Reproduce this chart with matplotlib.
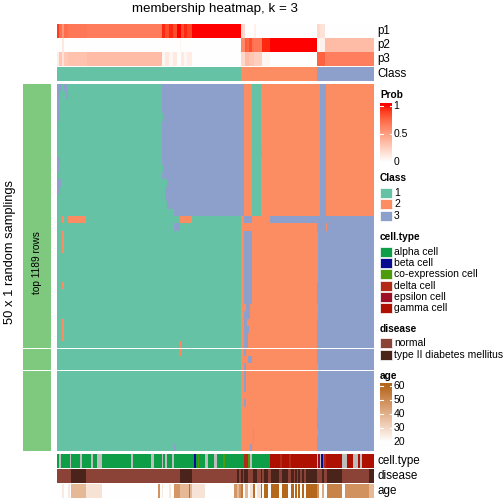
import numpy as np
import matplotlib
matplotlib.use("Agg")
import matplotlib.pyplot as plt
from matplotlib.colors import ListedColormap
from matplotlib.patches import Rectangle

plt.rcParams['font.family'] = ['Liberation Sans', 'DejaVu Sans']

# ---------------- data ----------------
title = "membership heatmap, k = 3"
n_rows = 50
slice_sizes = [36, 3, 11]

# consensus class per sample (run-length: class, count)
class_runs = [(1, 184), (2, 76), (3, 57)]

# membership probabilities (run-length: value, count)
p1_runs = [(0.9, 2), (0.7, 3), (0.55, 2), (0.72, 4), (0.68, 19), (0.66, 75),
           (0.95, 3), (0.85, 4), (0.95, 4), (0.85, 4), (1.0, 4), (0.85, 3), (0.95, 3), (0.88, 5),
           (1.0, 49),
           (0.2, 4), (0.0, 9), (0.08, 2), (0.0, 61),
           (0.2, 3), (0.15, 5), (0.0, 49)]
p2_runs = [(0.0, 5), (0.12, 2), (0.0, 116), (0.05, 1), (0.0, 60),
           (0.6, 4), (0.8, 2), (0.75, 2), (0.85, 3), (0.7, 2), (0.68, 8), (0.95, 8), (1.0, 47),
           (0.03, 3), (0.08, 5), (0.35, 49)]
p3_runs = [(0.1, 2), (0.3, 3), (0.15, 2), (0.28, 4), (0.32, 19), (0.35, 75),
           (0.05, 3), (0.12, 4), (0.05, 4), (0.12, 4), (0.0, 4), (0.12, 3), (0.05, 3), (0.1, 5),
           (0.0, 49),
           (0.2, 4), (0.35, 4), (0.3, 5), (0.25, 8), (0.05, 8), (0.0, 47),
           (0.77, 3), (0.77, 5), (0.65, 49)]

# class assignment pattern in the top 18 samplings (run-length)
top_rows_runs = [(1, 105), (3, 82), (2, 8), (1, 9), (2, 59), (3, 6), (2, 48)]
top_rows_count = 18
# one sampling with a very different assignment (row 18)
odd_row_runs = [(1, 5), (2, 2), (1, 4), (2, 18), (1, 94), (2, 12), (1, 49),
                (2, 3), (3, 8), (2, 18), (3, 104)]
odd_row_index = 18
# other deviations: (row_from, row_to, sample_from, sample_to, class)
deviations = [
    (4, 5, 105, 106, 1), (11, 12, 105, 106, 1), (13, 14, 105, 110, 1),
    (14, 16, 105, 108, 1), (16, 17, 105, 110, 1), (17, 18, 105, 117, 1),
    (0, 1, 0, 5, 3), (0, 1, 7, 10, 3), (1, 2, 0, 3, 3), (1, 2, 9, 11, 3),
    (2, 3, 0, 2, 3), (3, 5, 0, 3, 3), (5, 6, 0, 1, 3), (10, 11, 0, 3, 3),
    (11, 12, 0, 2, 3), (12, 13, 0, 1, 3), (13, 14, 0, 4, 3), (14, 15, 0, 3, 3),
    (15, 16, 0, 1, 3), (9, 10, 204, 205, 1),
    (19, 20, 117, 123, 3), (19, 20, 269, 270, 2),
    (20, 23, 5, 7, 2), (27, 28, 5, 7, 2), (32, 35, 5, 7, 2),
    (20, 30, 187, 195, 3),
    (30, 31, 189, 193, 3), (31, 32, 187, 193, 3), (32, 33, 187, 190, 3),
    (33, 34, 187, 192, 3), (34, 36, 187, 191, 3),
    (20, 27, 260, 261, 2), (30, 32, 260, 261, 2),
    (35, 37, 123, 124, 2),
    (36, 37, 187, 189, 3), (37, 38, 191, 195, 3), (38, 42, 187, 189, 3),
    (43, 44, 187, 189, 3), (38, 44, 260, 261, 2), (47, 48, 260, 261, 2),
    (47, 49, 196, 197, 1), (49, 50, 117, 119, 3), (49, 50, 193, 195, 3),
]

cell_types = ["alpha cell", "beta cell", "co-expression cell", "delta cell",
              "epsilon cell", "gamma cell"]
cell_colors = ["#0E9E47", "#0A0A90", "#4E9B0C", "#B22A18", "#9B0E25", "#AE1002"]
cell_runs = [("alpha cell", 2), (None, 2), ("alpha cell", 9), (None, 1), ("alpha cell", 9),
             (None, 2), ("alpha cell", 9), (None, 2), ("alpha cell", 4), (None, 5),
             ("alpha cell", 29), (None, 2), ("alpha cell", 18), (None, 3), ("alpha cell", 8),
             (None, 1), ("alpha cell", 2), (None, 2), ("alpha cell", 5), (None, 2),
             ("alpha cell", 20), ("beta cell", 2), ("alpha cell", 2), ("co-expression cell", 1),
             ("alpha cell", 6), (None, 3), ("alpha cell", 6), (None, 3), ("alpha cell", 6),
             ("co-expression cell", 2), ("alpha cell", 19), ("delta cell", 4),
             ("co-expression cell", 2), (None, 2), ("alpha cell", 18), ("gamma cell", 10),
             ("delta cell", 2), ("gamma cell", 7), ("delta cell", 2), ("gamma cell", 26),
             (None, 1), ("epsilon cell", 2), (None, 1), ("beta cell", 2),
             ("co-expression cell", 1), ("delta cell", 2), ("gamma cell", 16), (None, 5),
             ("gamma cell", 6), (None, 5), ("gamma cell", 2), (None, 2), ("gamma cell", 12)]

diseases = ["normal", "type II diabetes mellitus"]
disease_colors = ["#8C4337", "#4A231A"]
disease_runs = [("N", 14), ("T", 15), ("N", 94), ("T", 12), ("N", 45), ("T", 2), ("N", 2),
                ("T", 2), ("N", 1), ("T", 4), ("N", 5), ("T", 4), ("N", 4), ("T", 1),
                ("N", 2), ("T", 4), ("N", 3), ("T", 8), ("N", 3), ("T", 6), ("N", 3),
                ("T", 3), ("N", 1), ("T", 2), ("N", 1), ("T", 2), ("N", 2), ("T", 2),
                ("N", 2), ("T", 11), ("N", 5), ("T", 2), ("N", 3), ("T", 15), ("N", 27),
                ("T", 5)]

age_runs = [(20, 5), (25, 2), (20, 4), (25, 2), (20, 1), (38, 15), (27, 16), (20, 56),
            (48, 2), (20, 2), (26, 1), (20, 6), (26, 2), (20, 3), (47, 6), (38, 9), (58, 1),
            (38, 2), (27, 13), (20, 29), (47, 3), (38, 2), (47, 2), (55, 2), (20, 2),
            (38, 3), (20, 2), (27, 3), (58, 2), (20, 2), (27, 4), (60, 1), (20, 2), (60, 4),
            (20, 3), (60, 8), (20, 3), (60, 6), (20, 3), (60, 3), (20, 1), (60, 2), (20, 1),
            (60, 2), (20, 2), (60, 2), (20, 2), (60, 11), (48, 2), (20, 3), (42, 2), (20, 3),
            (52, 15), (20, 3), (48, 24), (38, 5)]
age_ticks = [20, 30, 40, 50, 60]
prob_ticks = [0, 0.5, 1]

# ---------------- helpers ----------------
def expand(runs):
    return np.concatenate([np.repeat([v], n) for v, n in runs])

def _lin(c):
    c = np.asarray(c, float) / 255.0
    return np.where(c <= 0.04045, c / 12.92, ((c + 0.055) / 1.055) ** 2.4)

def _srgb(c):
    c = np.clip(c, 0, 1)
    return np.where(c <= 0.0031308, 12.92 * c, 1.055 * np.power(c, 1 / 2.4) - 0.055)

_M = np.array([[0.4124, 0.3576, 0.1805], [0.2126, 0.7152, 0.0722], [0.0193, 0.1192, 0.9505]])
_Wp = np.array([0.95047, 1.0, 1.08883])

def rgb2lab(rgb):
    xyz = _M @ _lin(rgb) / _Wp
    d = 6 / 29
    f = np.where(xyz > d ** 3, np.cbrt(xyz), xyz / (3 * d * d) + 4 / 29)
    return np.array([116 * f[1] - 16, 500 * (f[0] - f[1]), 200 * (f[1] - f[2])])

def lab2rgb(lab):
    L, a, b = lab
    fy = (L + 16) / 116
    fx = fy + a / 500
    fz = fy - b / 200
    d = 6 / 29
    fi = lambda t: np.where(t > d, t ** 3, 3 * d * d * (t - 4 / 29))
    xyz = np.array([fi(fx), fi(fy), fi(fz)]) * _Wp
    return _srgb(np.linalg.inv(_M) @ xyz)

def lab_ramp(c0, c1, n=256):
    l0, l1 = rgb2lab(c0), rgb2lab(c1)
    cols = [lab2rgb(l0 + (l1 - l0) * t) for t in np.linspace(0, 1, n)]
    return ListedColormap(np.array(cols))

prob_cmap = lab_ramp((255, 255, 255), (255, 0, 0))
age_cmap = lab_ramp((255, 255, 255), (181, 103, 28))
class_colors = ["#66C2A5", "#FC8D62", "#8DA0CB"]
class_cmap = ListedColormap(class_colors)

W = H = 504
fig = plt.figure(figsize=(5.04, 5.04), dpi=100)

def px_axes(x0, y0, x1, y1):
    ax = fig.add_axes([x0 / W, 1 - y1 / H, (x1 - x0) / W, (y1 - y0) / H])
    ax.set_axis_off()
    return ax

def ftext(x, y, s, **kw):
    fig.text(x / W, 1 - y / H, s, **kw)

# overlay canvas for legends
cv = fig.add_axes([0, 0, 1, 1])
cv.set_xlim(0, W)
cv.set_ylim(H, 0)
cv.set_axis_off()

X0, X1 = 57, 374

# ---------------- top annotations ----------------
classes = expand(class_runs)
for runs, (y0, y1) in zip([p1_runs, p2_runs, p3_runs], [(24, 37.7), (37.7, 51.7), (51.7, 65.7)]):
    ax = px_axes(X0, y0, X1, y1)
    ax.imshow(expand(runs)[None, :], cmap=prob_cmap, vmin=0, vmax=1, aspect='auto',
              interpolation='nearest')
ax = px_axes(X0, 66.7, X1, 80.7)
ax.imshow(classes[None, :], cmap=class_cmap, vmin=1, vmax=3, aspect='auto', interpolation='nearest')

for lab, y in [("p1", 31), ("p2", 45), ("p3", 59), ("Class", 74)]:
    ftext(377, y, lab, fontsize=8.4, va='center', ha='left')

# ---------------- main heatmap ----------------
M = np.tile(classes, (n_rows, 1))
M[:top_rows_count] = expand(top_rows_runs)
M[odd_row_index] = expand(odd_row_runs)
for r0, r1, c0, c1, k in deviations:
    M[r0:r1, c0:c1] = k

slice_px = [(83.7, 347.7), (348.7, 369.7), (370.7, 451)]
r = 0
for n, (y0, y1) in zip(slice_sizes, slice_px):
    ax = px_axes(X0, y0, X1, y1)
    ax.imshow(M[r:r + n], cmap=class_cmap, vmin=1, vmax=3, aspect='auto', interpolation='nearest')
    axl = px_axes(23, y0, 51, y1)
    axl.add_patch(Rectangle((0, 0), 1, 1, color="#7FC97F", transform=axl.transAxes))
    r += n

ftext(37, 263, "top 1189 rows", rotation=90, fontsize=7.3, ha='center', va='center')
ftext(10.5, 252, "50 x 1 random samplings", rotation=90, fontsize=9.3, ha='center', va='center')
ftext(215.5, 9, title, fontsize=9.6, ha='center', va='center')

# ---------------- bottom annotations ----------------
cell_idx = np.array([np.nan if v is None else cell_types.index(v) for v, n in cell_runs
                     for _ in range(n)])
ax = px_axes(X0, 454, X1, 468)
ax.add_patch(Rectangle((0, 0), 1, 1, color="#BEBEBE", transform=ax.transAxes, zorder=0))
cm_cell = ListedColormap(cell_colors)
cm_cell.set_bad((0, 0, 0, 0))
ax.imshow(np.ma.masked_invalid(cell_idx)[None, :], cmap=cm_cell, vmin=-0.5, vmax=5.5,
          aspect='auto', interpolation='nearest')

dis_idx = expand([(0 if v == "N" else 1, n) for v, n in disease_runs])
ax = px_axes(X0, 469, X1, 483)
ax.imshow(dis_idx[None, :], cmap=ListedColormap(disease_colors), vmin=0, vmax=1,
          aspect='auto', interpolation='nearest')

ax = px_axes(X0, 484, X1, 498)
ax.imshow(expand(age_runs)[None, :], cmap=age_cmap, vmin=20, vmax=60, aspect='auto',
          interpolation='nearest')

for lab, y in [("cell.type", 461), ("disease", 476), ("age", 491)]:
    ftext(377, y, lab, fontsize=8.4, va='center', ha='left')

# ---------------- legends ----------------
LX0, LX1 = 380, 392
tfs, lfs = 7.3, 7.5

def gradient_bar(y_top, y_bot, v_top, v_bot, cmap, vmin, vmax, ticks, tick_y):
    vals = np.linspace(v_top, v_bot, 200)[:, None]
    cv.imshow(np.clip(vals, vmin, vmax), cmap=cmap, vmin=vmin, vmax=vmax, aspect='auto',
              extent=(LX0, LX1, y_bot, y_top), interpolation='bilinear')
    for t, ty in zip(ticks, tick_y):
        cv.plot([LX0, LX0 + 2.5], [ty, ty], color='white', lw=0.8)
        cv.plot([LX1 - 2.5, LX1], [ty, ty], color='white', lw=0.8)
        cv.text(LX1 + 1.5, ty, f"{t:g}", fontsize=lfs, va='center', ha='left')

cv.text(380, 95, "Prob", fontsize=tfs, fontweight='bold', va='center', ha='left')
gradient_bar(103, 162, 1.05, 0.0, prob_cmap, 0, 1, prob_ticks[::-1], [106, 134, 162])

def box_legend(title_y, title_txt, labels, colors, y_first, step):
    cv.text(380, title_y, title_txt, fontsize=tfs, fontweight='bold', va='center', ha='left')
    for i, (lab, col) in enumerate(zip(labels, colors)):
        y = y_first + i * step
        cv.add_patch(Rectangle((LX0, y - 5), 11.5, 10, facecolor=col, edgecolor='white', lw=0.5))
        cv.text(394, y, lab, fontsize=lfs, va='center', ha='left')

box_legend(178, "Class", ["1", "2", "3"], class_colors, 193, 11.3)
box_legend(237, "cell.type", cell_types, cell_colors, 252, 11.2)
box_legend(329, "disease", diseases, disease_colors, 343, 12)

cv.text(380, 376, "age", fontsize=tfs, fontweight='bold', va='center', ha='left')
gradient_bar(383, 447, 62, 16.4, age_cmap, 20, 60, age_ticks[::-1], [386, 400, 414, 428, 442])

fig.savefig("out.png", dpi=100)
